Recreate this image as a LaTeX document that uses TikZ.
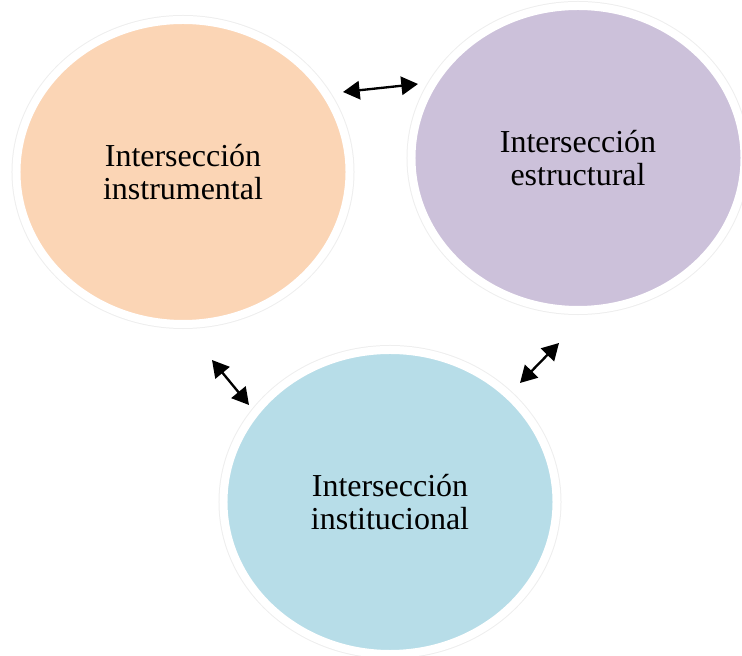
\documentclass[tikz,border=0pt]{standalone}
\usepackage{fontspec}
\setmainfont{Liberation Serif}
\usetikzlibrary{shapes.geometric,arrows.meta}
\definecolor{RingGray}{RGB}{238,238,238}
\definecolor{PeachFill}{RGB}{251,213,181}
\definecolor{LilacFill}{RGB}{204,193,218}
\definecolor{AquaFill}{RGB}{183,221,232}

\begin{document}
\begin{tikzpicture}[x=0.03cm,y=-0.03cm]
			\useasboundingbox (0,0) rectangle (742,656);
			%\draw[help lines] (0,0) grid (742,656);
			\tikzstyle{every node}=[ellipse,minimum width=9.99cm,minimum height=9.12cm,draw=white,line width=0.24cm,preaction={draw=RingGray,line width=0.3cm},align=center,font=\fontsize{27.3}{28.2}\selectfont]
			\tikzstyle{biarrow}=[line width=0.07cm,{Triangle[length=5mm,width=5.5mm]}-{Triangle[length=5mm,width=5.5mm]}]
			
			%% Intersections
			\draw (183,172) node [fill=PeachFill] (instr) {Intersección\\instrumental};
			\draw (578,158) node [fill=LilacFill] (estr) {Intersección\\estructural};
			\draw (390,502) node [fill=AquaFill] (inst) {Intersección\\institucional};
			
			%% Links
			\coordinate (ie1) at (343,92);
			\coordinate (ie2) at (418,84);
			\draw [biarrow] (ie1) -- (ie2);
			
			\coordinate (it1) at (212,360);
			\coordinate (it2) at (249,405);
			\draw [biarrow] (it1) -- (it2);
			
			\coordinate (et1) at (559,343);
			\coordinate (et2) at (520,383);
			\draw [biarrow] (et1) -- (et2);
			
		\end{tikzpicture}
\end{document}
